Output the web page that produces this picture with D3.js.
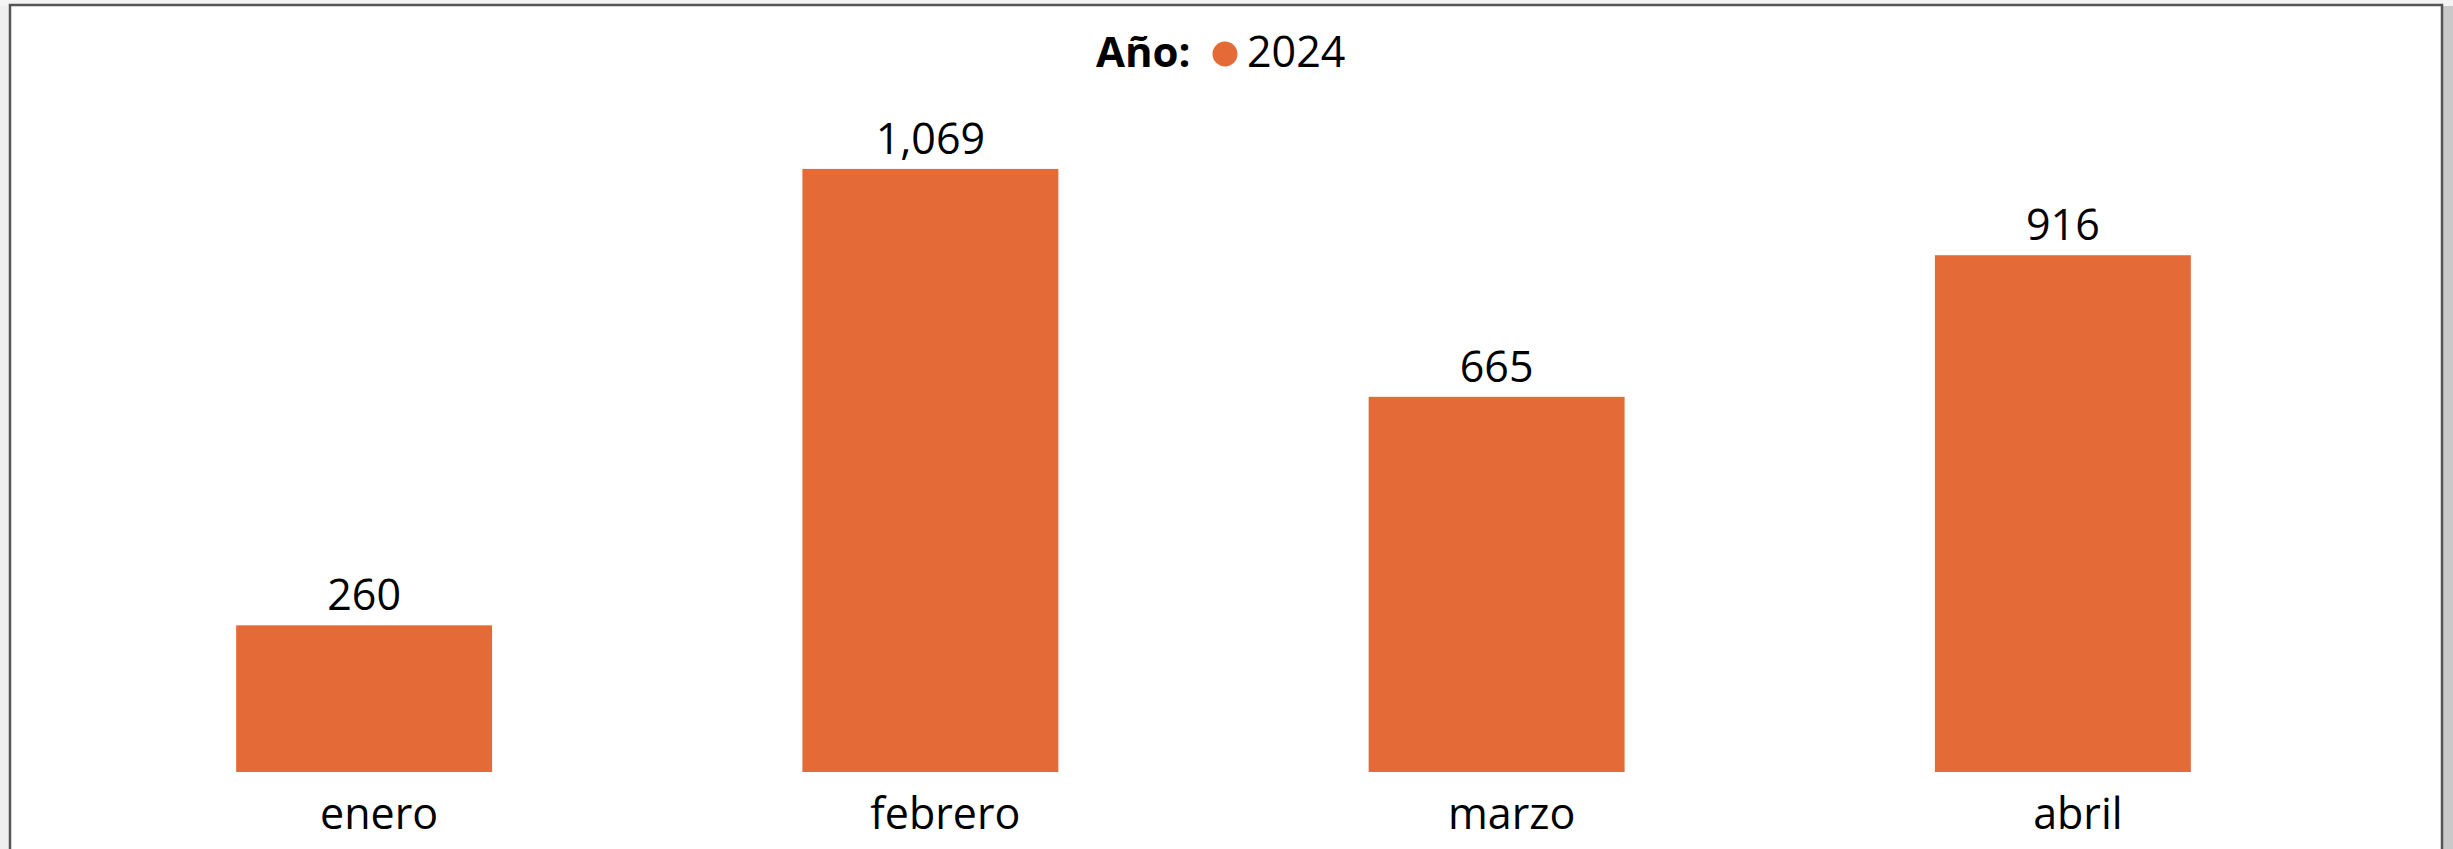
<!DOCTYPE html>
<html>
<head>
<meta charset="utf-8">
<script src="https://cdn.jsdelivr.net/npm/d3@7"></script>
<style>
  html, body { margin: 0; padding: 0; background: #ffffff; }
  svg { display: block; }
  text { font-family: "Open Sans", "Noto Sans", sans-serif; fill: #000; }
</style>
</head>
<body>
<svg id="chart" width="2453" height="849"></svg>
<script>
// Monthly totals, 2024
const months = ["enero", "febrero", "marzo", "abril"];
const values2024 = [260, 1069, 665, 916];
const seriesName = "2024";
const legendTitle = "Año:";

const W = 2453, H = 849;
const svg = d3.select("#chart");
const barColor = "#E46B38";

// Panel frame with a soft drop shadow on the left/right edges
svg.append("rect").attr("x", 0).attr("y", 0).attr("width", W).attr("height", H).attr("fill", "#f4f4f4");
svg.append("rect").attr("x", 2443).attr("y", 6).attr("width", 10).attr("height", H).attr("fill", "#c9c9c9");
svg.append("rect").attr("x", 0).attr("y", 6).attr("width", 9).attr("height", H).attr("fill", "#efefef");
svg.append("rect").attr("x", 10).attr("y", 5).attr("width", 2432).attr("height", H + 10)
  .attr("fill", "#ffffff").attr("stroke", "#555555").attr("stroke-width", 2.5);

const x = d3.scaleBand()
  .domain(months)
  .range([81, 2346])
  .paddingInner(0.548)
  .paddingOuter(0.274);

const y = d3.scaleLinear()
  .domain([0, 1200])
  .range([772, 95]);

const fmt = d3.format(",");

// Bars
svg.append("g").selectAll("rect")
  .data(months.map((m, i) => ({ m, v: values2024[i] })))
  .join("rect")
  .attr("x", d => x(d.m))
  .attr("y", d => y(d.v))
  .attr("width", x.bandwidth())
  .attr("height", d => y(0) - y(d.v))
  .attr("fill", barColor);

// Value labels
svg.append("g").selectAll("text")
  .data(months.map((m, i) => ({ m, v: values2024[i] })))
  .join("text")
  .attr("x", d => x(d.m) + x.bandwidth() / 2)
  .attr("y", d => y(d.v) - 15)
  .attr("text-anchor", "middle")
  .attr("font-size", 43)
  .text(d => fmt(d.v));

// Category axis (no line, no ticks)
const xAxis = svg.append("g")
  .attr("transform", "translate(0,772)")
  .call(d3.axisBottom(x).tickSize(0).tickPadding(0));
xAxis.select(".domain").remove();
xAxis.selectAll("text")
  .attr("font-size", 43)
  .attr("font-family", "'Open Sans', 'Noto Sans', sans-serif")
  .attr("fill", "#000")
  .attr("dy", null)
  .attr("y", 57)
  .attr("dx", 15);

// Legend
const legend = svg.append("g");
legend.append("text")
  .attr("x", 1096).attr("y", 67)
  .attr("font-size", 42).attr("font-weight", "bold")
  .text(legendTitle);
legend.append("circle")
  .attr("cx", 1225).attr("cy", 54).attr("r", 12.5)
  .attr("fill", barColor);
legend.append("text")
  .attr("x", 1247).attr("y", 67)
  .attr("font-size", 43)
  .text(seriesName);
</script>
</body>
</html>
